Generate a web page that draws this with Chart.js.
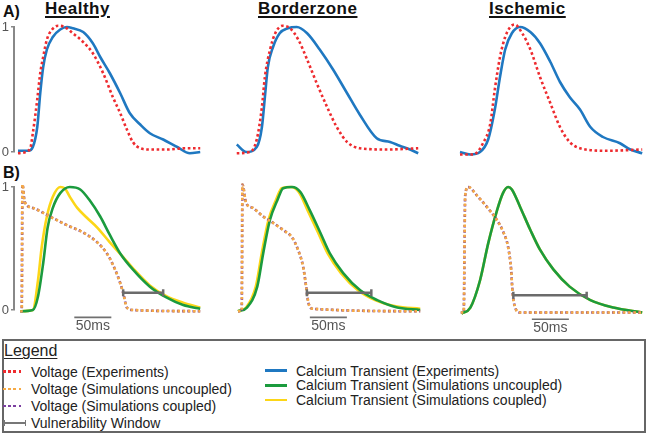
<!DOCTYPE html>
<html>
<head>
<meta charset="utf-8">
<script src="https://cdn.jsdelivr.net/npm/chart.js@4.4.1/dist/chart.umd.min.js"></script>
<style>
  body { margin: 0; background: #fff; font-family: "Liberation Sans", Arial, Helvetica, sans-serif; }
  #fig { position: relative; width: 648px; height: 436px; overflow: hidden; }
  canvas { position: absolute; }
  .lbl { position: absolute; font-weight: bold; font-size: 16px; line-height: 16px; color: #111; }
  .ttl { position: absolute; font-weight: bold; font-size: 17px; line-height: 17px; letter-spacing: 0.5px;
         text-decoration: underline; text-decoration-thickness: 1.5px; text-underline-offset: 2px; color: #111; }
  #legendBox { position: absolute; left: 2px; top: 338.5px; width: 640px; height: 90.5px; border: 2px solid #666; }
  .legTitle { position: absolute; left: 4px; top: 343px; font-size: 16px; line-height: 16px; text-decoration: underline;
              text-decoration-thickness: 1px; text-underline-offset: 2px; color: #222; }
  .legTxt { position: absolute; font-size: 14px; line-height: 14px; color: #222; white-space: nowrap; }
  .legSym { position: absolute; height: 2.6px; }
</style>
</head>
<body>
<div id="fig">
  <div class="lbl" style="left:3px; top:4px;">A)</div>
  <div class="lbl" style="left:3px; top:165px;">B)</div>
  <div class="ttl" style="left:45px; top:0px;">Healthy</div>
  <div class="ttl" style="left:258px; top:0px;">Borderzone</div>
  <div class="ttl" style="left:489px; top:0px;">Ischemic</div>

  <canvas id="aHealthy" width="204" height="145" style="left:0px; top:17px;"></canvas>
  <canvas id="aBorder" width="190" height="145" style="left:232px; top:17px;"></canvas>
  <canvas id="aIsch" width="190" height="145" style="left:456px; top:17px;"></canvas>
  <canvas id="bHealthy" width="204" height="158" style="left:0px; top:177px;"></canvas>
  <canvas id="bBorder" width="190" height="158" style="left:234px; top:177px;"></canvas>
  <canvas id="bIsch" width="190" height="158" style="left:456px; top:177px;"></canvas>

  <div id="legendBox"></div>
  <div class="legTitle">Legend</div>
</div>
<script>
// time axis of every panel, in ms
const T_MIN = -5.4;
const T_MAX = 251.1;
const scaleBarText = '50ms';

// colours
const cRed = '#ee2b2f';
const cBlue = '#1f78c1';
const cOrange = '#f6aa45';
const cPurple = '#7b3fa0';
const cGreen = '#1b9b3e';
const cYellow = '#fcd617';
const cWindow = '#6b6b6b';

// A) experiments, healthy
const hExpCaT = [0, 14, 20, 26, 30, 34, 39, 47, 57, 66, 74, 88, 101, 111, 124, 138, 151, 165, 178, 196, 215, 232, 246];
const hExpCa = [0.01, 0.01, 0.04, 0.20, 0.47, 0.68, 0.82, 0.92, 0.98, 1.0, 0.99, 0.96, 0.87, 0.76, 0.63, 0.47, 0.31, 0.22, 0.15, 0.10, 0.04, -0.01, 0.0];
const hExpVmT = [0, 16, 20, 26, 30, 34, 39, 46, 54, 63, 74, 88, 101, 115, 128, 138, 147, 155, 165, 178, 201, 228, 246];
const hExpVm = [-0.01, 0.02, 0.15, 0.42, 0.63, 0.76, 0.90, 0.98, 1.01, 1.0, 0.95, 0.88, 0.79, 0.63, 0.44, 0.31, 0.18, 0.08, 0.03, 0.02, 0.02, 0.03, 0.03];

// A) experiments, borderzone
const bzExpCaT = [1, 14, 28, 35, 39, 43, 50, 59, 70, 82, 96, 113, 131, 150, 167, 190, 208, 221, 235, 246];
const bzExpCa = [0.06, 0.0, 0.04, 0.20, 0.44, 0.68, 0.84, 0.95, 0.99, 1.0, 0.95, 0.82, 0.66, 0.47, 0.30, 0.11, 0.08, 0.05, 0.02, -0.01];
const bzExpVmT = [1, 19, 28, 35, 39, 46, 53, 63, 73, 84, 96, 109, 123, 136, 150, 167, 204, 246];
const bzExpVm = [-0.01, 0.0, 0.10, 0.36, 0.60, 0.82, 0.95, 1.01, 0.99, 0.90, 0.74, 0.55, 0.36, 0.20, 0.08, 0.03, 0.02, 0.03];

// A) experiments, ischemic
const isExpCaT = [0, 14, 27, 38, 47, 54, 61, 70, 81, 95, 108, 122, 135, 148, 162, 176, 193, 216, 230, 246];
const isExpCa = [0.0, -0.02, 0.0, 0.10, 0.34, 0.60, 0.82, 0.95, 1.0, 0.96, 0.87, 0.72, 0.56, 0.44, 0.34, 0.20, 0.12, 0.07, 0.02, -0.01];
const isExpVmT = [0, 18, 31, 41, 47, 54, 61, 68, 74, 84, 95, 108, 122, 135, 148, 162, 198, 246];
const isExpVm = [-0.02, -0.02, 0.07, 0.23, 0.50, 0.76, 0.92, 1.0, 1.02, 0.95, 0.82, 0.60, 0.39, 0.20, 0.08, 0.03, 0.01, 0.02];

// B) simulations, healthy
const hSimVmT = [3, 5, 6, 9, 20, 43, 66, 88, 107, 120, 128, 135, 142, 147, 155, 246];
const hSimVm = [-0.01, -0.01, 1.02, 0.88, 0.83, 0.76, 0.69, 0.63, 0.55, 0.46, 0.37, 0.27, 0.14, 0.02, 0.0, -0.01];
const hSimCaUncT = [3, 20, 27, 34, 40, 47, 57, 70, 84, 97, 111, 124, 138, 155, 178, 201, 223, 246];
const hSimCaUnc = [-0.01, 0.0, 0.11, 0.38, 0.67, 0.83, 0.95, 1.0, 0.98, 0.89, 0.76, 0.61, 0.46, 0.33, 0.19, 0.10, 0.04, 0.01];
const hSimCaCpT = [3, 20, 27, 32, 39, 47, 57, 63, 70, 80, 93, 107, 124, 142, 155, 178, 201, 223, 246];
const hSimCaCp = [-0.01, 0.0, 0.24, 0.51, 0.76, 0.92, 1.0, 0.99, 0.92, 0.83, 0.75, 0.67, 0.55, 0.43, 0.34, 0.20, 0.11, 0.06, 0.02];
const hVulnT = [142, 196];
const hVulnLevel = 0.14;
const hBarT = [76, 126];
const hBarLevel = -0.06;

// B) simulations, borderzone
const bzSimVmT = [0, 5, 6, 11, 20, 34, 47, 61, 73, 81, 88, 92, 95, 101, 246];
const bzSimVm = [-0.01, -0.01, 1.02, 0.87, 0.83, 0.76, 0.71, 0.65, 0.59, 0.49, 0.35, 0.19, 0.06, 0.01, -0.01];
const bzSimCaUncT = [0, 12, 26, 34, 43, 53, 61, 73, 84, 97, 111, 124, 142, 165, 188, 215, 246];
const bzSimCaUnc = [-0.01, 0.02, 0.19, 0.46, 0.73, 0.89, 0.99, 1.0, 0.96, 0.81, 0.63, 0.46, 0.30, 0.16, 0.08, 0.02, 0.0];
const bzSimCaCpT = [0, 11, 24, 32, 41, 51, 59, 71, 82, 94, 108, 121, 139, 162, 185, 213, 246];
const bzSimCaCp = [-0.01, 0.02, 0.19, 0.46, 0.73, 0.89, 0.99, 1.0, 0.96, 0.81, 0.63, 0.46, 0.30, 0.16, 0.08, 0.03, 0.01];
const bzVulnT = [93, 180];
const bzVulnLevel = 0.14;
const bzBarT = [97, 147];
const bzBarLevel = -0.06;

// B) simulations, ischemic
const isSimVmT = [1, 5, 7, 11, 23, 36, 50, 58, 65, 69, 71, 74, 81, 246];
const isSimVm = [-0.02, -0.02, 0.93, 1.0, 0.93, 0.84, 0.73, 0.64, 0.51, 0.33, 0.14, 0.03, -0.02, -0.02];
const isSimCaT = [2, 14, 27, 38, 50, 58, 65, 70, 81, 95, 108, 126, 148, 176, 207, 246];
const isSimCa = [-0.03, 0.02, 0.24, 0.54, 0.81, 0.95, 1.0, 0.98, 0.84, 0.65, 0.49, 0.33, 0.19, 0.08, 0.02, -0.02];
const isVulnT = [72, 171];
const isVulnLevel = 0.12;
const isBarT = [97, 147];
const isBarLevel = -0.075;

// legend
const legendLeftLabels = ['Voltage (Experiments)', 'Voltage (Simulations uncoupled)', 'Voltage (Simulations coupled)', 'Vulnerability Window'];
const legendLeftColors = [cRed, cOrange, cPurple, '#777'];
const legendRightLabels = ['Calcium Transient (Experiments)', 'Calcium Transient (Simulations uncoupled)', 'Calcium Transient (Simulations coupled)'];
const legendRightColors = [cBlue, cGreen, cYellow];

function pts(t, v){
    return t.map((x, i) => ({x: x, y: v[i]}));
}

function dotted(label, t, v, color){
    return {label: label, data: pts(t, v), borderColor: color, borderWidth: 2.6,
        borderDash: [2.6, 2.6], pointRadius: 0, clip: false};
}

function solid(label, t, v, color){
    return {label: label, data: pts(t, v), borderColor: color, borderWidth: 2.6, pointRadius: 0, clip: false};
}

function capped(label, t, level, color, width, capR, text){
    return {label: label, data: t.map(x => ({x: x, y: level})), borderColor: color, borderWidth: width,
        pointStyle: 'line', rotation: 90, pointRadius: capR, pointBorderWidth: width,
        pointBorderColor: color, cubicInterpolationMode: 'default', tension: 0, clip: false, barText: text};
}

// writes the "50ms" under the scale bar
const scaleBarLabel = {
    id: 'scaleBarLabel',
    afterDatasetsDraw(chart){
        chart.data.datasets.forEach((ds, i) => {
            if(!ds.barText) return;
            const p = chart.getDatasetMeta(i).data;
            const c = chart.ctx;
            c.save();
            c.font = '14px "Liberation Sans", Arial, sans-serif';
            c.fillStyle = '#555';
            c.textAlign = 'center';
            c.textBaseline = 'middle';
            c.fillText(ds.barText, (p[0].x + p[p.length - 1].x) / 2, p[0].y + 9);
            c.restore();
        });
    }
};

function panel(id, datasets, showAxis, padBottom){
    const ctx = document.getElementById(id).getContext('2d');
    const yScale = {
        type: 'linear', min: 0, max: 1, display: showAxis,
        ticks: {stepSize: 1, color: '#555', font: {size: 13}, padding: 2},
        grid: {drawOnChartArea: false, drawTicks: true, tickLength: 3, color: '#888', lineWidth: 1.5},
        border: {color: '#888', width: 2}
    };
    if(showAxis){
        yScale.afterFit = s => { s.width = 14; };
    }
    return new Chart(ctx, {
        type: 'line',
        data: {datasets: datasets},
        options: {
            responsive: false,
            animation: false,
            events: [],
            layout: {autoPadding: false, padding: {top: 10, bottom: padBottom, left: 0, right: 0}},
            plugins: {legend: {display: false}, tooltip: {enabled: false}},
            elements: {line: {cubicInterpolationMode: 'monotone', borderCapStyle: 'butt'}},
            scales: {
                x: {type: 'linear', display: false, min: T_MIN, max: T_MAX},
                y: yScale
            }
        },
        plugins: [scaleBarLabel]
    });
}

// first dataset is drawn on top
function expSets(vmT, vm, caT, ca){
    return [
        dotted('Voltage (Experiments)', vmT, vm, cRed),
        solid('Calcium Transient (Experiments)', caT, ca, cBlue)
    ];
}

function simSets(vmT, vm, uncT, unc, cpT, cp, vulnT, vulnLevel, barT, barLevel){
    const coupledVm = dotted('Voltage (Simulations coupled)', vmT, vm, cPurple);
    coupledVm.borderDashOffset = 0.5;
    return [
        capped('Vulnerability Window', vulnT, vulnLevel, cWindow, 2.5, 3.5, null),
        dotted('Voltage (Simulations uncoupled)', vmT, vm, cOrange),
        coupledVm,
        solid('Calcium Transient (Simulations uncoupled)', uncT, unc, cGreen),
        solid('Calcium Transient (Simulations coupled)', cpT, cp, cYellow),
        capped('scale', barT, barLevel, '#707070', 1.6, 3, scaleBarText)
    ];
}

panel('aHealthy', expSets(hExpVmT, hExpVm, hExpCaT, hExpCa), true, 10);
panel('aBorder', expSets(bzExpVmT, bzExpVm, bzExpCaT, bzExpCa), false, 10);
panel('aIsch', expSets(isExpVmT, isExpVm, isExpCaT, isExpCa), false, 10);
panel('bHealthy', simSets(hSimVmT, hSimVm, hSimCaUncT, hSimCaUnc, hSimCaCpT, hSimCaCp, hVulnT, hVulnLevel, hBarT, hBarLevel), true, 25);
panel('bBorder', simSets(bzSimVmT, bzSimVm, bzSimCaUncT, bzSimCaUnc, bzSimCaCpT, bzSimCaCp, bzVulnT, bzVulnLevel, bzBarT, bzBarLevel), false, 25);
panel('bIsch', simSets(isSimVmT, isSimVm, isSimCaT, isSimCa, isSimCaT, isSimCa, isVulnT, isVulnLevel, isBarT, isBarLevel), false, 25);

// legend rows
const fig = document.getElementById('fig');
function addCap(x, yMid, color){
    const cap = document.createElement('div');
    cap.className = 'legSym';
    cap.style.left = x + 'px';
    cap.style.top = (yMid - 3) + 'px';
    cap.style.width = '1.5px';
    cap.style.height = '6px';
    cap.style.background = color;
    fig.appendChild(cap);
}

function addLegendRow(x, symW, textX, yMid, label, color, isDotted, hasCap){
    const sym = document.createElement('div');
    sym.className = 'legSym';
    sym.style.left = x + 'px';
    sym.style.top = (yMid - 1.2) + 'px';
    sym.style.width = symW + 'px';
    sym.style.height = hasCap ? '2.2px' : '2.6px';
    sym.style.background = isDotted
        ? 'repeating-linear-gradient(to right, ' + color + ' 0 2.6px, transparent 2.6px 5.2px)'
        : color;
    fig.appendChild(sym);
    if(hasCap){
        addCap(x, yMid, color);
        addCap(x + symW - 1.5, yMid, color);
    }
    const txt = document.createElement('div');
    txt.className = 'legTxt';
    txt.style.left = textX + 'px';
    txt.style.top = (yMid + 5 - 11.85) + 'px';
    txt.textContent = label;
    fig.appendChild(txt);
}

const leftRowsY = [371.5, 388.8, 405.8, 423];
legendLeftLabels.forEach((lab, i) => {
    const last = i === legendLeftLabels.length - 1;
    addLegendRow(3, last ? 23 : 21, 31, leftRowsY[i], lab, legendLeftColors[i], !last, last);
});
const rightRowsY = [370.5, 385.3, 399.8];
legendRightLabels.forEach((lab, i) => {
    addLegendRow(265, 22, 296, rightRowsY[i], lab, legendRightColors[i], false, false);
});
</script>
</body>
</html>
